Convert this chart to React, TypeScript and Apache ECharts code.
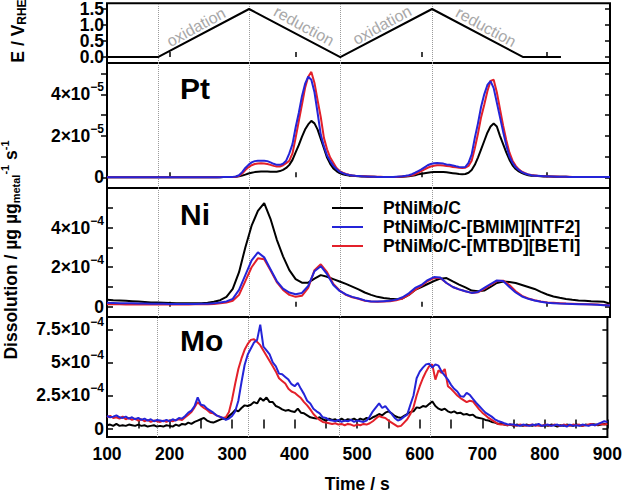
import React, { useEffect, useRef } from 'react';
import * as echarts from 'echarts';

const FONT = '"Liberation Sans", Arial, Helvetica, sans-serif';

// ---------- potential programme (top panel) ----------
const potentialTimes = [100, 181, 326, 471, 617, 762, 822];
const potentialValues = [0, 0, 1.5, 0, 1.5, 0, 0];
const markerTimes = [181, 326, 471, 617];
const potentialTicks = [0, 0.5, 1, 1.5];
const potentialLabelsA = [0, 1];
const potentialLabelsB = [0.5, 1.5];

// ---------- axes ----------
const xTickValues = [100, 150, 200, 250, 300, 350, 400, 450, 500, 550, 600, 650, 700, 750, 800, 850, 900];
const xLabelValues = [100, 200, 300, 400, 500, 600, 700, 800, 900];
const innerXTicks = [200, 400, 600, 800];
const ptTicks = [0, 1, 2, 3, 4, 5];
const ptLabels = [0, 2, 4];
const niTicks = [0, 1, 2, 3, 4, 5];
const niLabels = [0, 2, 4];
const moTicks = [0, 2.5, 5, 7.5];
const moLabels = [0, 2.5, 5, 7.5];

const seriesNames = ['PtNiMo/C', 'PtNiMo/C-[BMIM][NTF2]', 'PtNiMo/C-[MTBD][BETI]'];
const seriesColors = ['#000000', '#2424d8', '#e3202a'];

// ---------- Pt dissolution, units of 1e-5, t = 100..900 s, step 5 s ----------
const PT_START = 100, PT_STEP = 5;
const ptBlack = [
  0, 0, 0, 0, 0, 0, 0, 0, 0, 0,
  0, 0, 0, 0, 0, 0, 0, 0, 0, 0,
  0, 0, 0, 0, 0, 0, 0, 0, 0, 0,
  0, 0, 0, 0, 0, 0, 0, 0.01, 0.01, 0.01,
  0.02, 0.03, 0.05, 0.08, 0.13, 0.18, 0.22, 0.25, 0.27, 0.28,
  0.28, 0.28, 0.27, 0.27, 0.27, 0.3, 0.36, 0.45, 0.6, 0.84,
  1.2, 1.55, 1.95, 2.3, 2.55, 2.72, 2.6, 2.3, 1.85, 1.4,
  0.95, 0.65, 0.43, 0.3, 0.2, 0.15, 0.11, 0.08, 0.07, 0.06,
  0.05, 0.04, 0.04, 0.03, 0.03, 0.03, 0.02, 0.02, 0.02, 0.02,
  0.02, 0.02, 0.02, 0.02, 0.03, 0.04, 0.05, 0.07, 0.1, 0.14,
  0.17, 0.2, 0.22, 0.24, 0.25, 0.26, 0.26, 0.25, 0.24, 0.22,
  0.2, 0.18, 0.16, 0.15, 0.16, 0.22, 0.35, 0.6, 0.95, 1.35,
  1.75, 2.15, 2.45, 2.59, 2.45, 2.0, 1.6, 1.2, 0.85, 0.58,
  0.4, 0.28, 0.2, 0.14, 0.1, 0.08, 0.07, 0.06, 0.05, 0.04,
  0.04, 0.04, 0.03, 0.03, 0.03, 0.03, 0.03, 0.02, 0.02, 0.02,
  0.02, 0.02, 0.02, 0.02, 0.02, 0.02, 0.02, 0.02, 0.02, 0.02,
  0.02,
];
const ptBlue = [
  0, 0, 0, 0, 0, 0, 0, 0, 0, 0,
  0, 0, 0, 0, 0, 0, 0, 0, 0, 0,
  0, 0, 0, 0, 0, 0, 0, 0, 0, 0,
  0, 0, 0, 0, 0, 0, 0, 0.01, 0.01, 0.01,
  0.02, 0.04, 0.1, 0.25, 0.45, 0.6, 0.72, 0.78, 0.8, 0.8,
  0.8, 0.78, 0.72, 0.65, 0.6, 0.6, 0.65, 0.8, 1.15, 1.6,
  2.4, 3.1, 3.9, 4.5, 4.85, 4.7, 4.1, 3.1, 2.05, 1.5,
  1.05, 0.78, 0.55, 0.4, 0.27, 0.2, 0.15, 0.11, 0.09, 0.07,
  0.06, 0.05, 0.04, 0.04, 0.03, 0.03, 0.02, 0.02, 0.02, 0.02,
  0.02, 0.02, 0.03, 0.04, 0.05, 0.07, 0.1, 0.15, 0.22, 0.3,
  0.38, 0.48, 0.58, 0.64, 0.68, 0.69, 0.68, 0.66, 0.62, 0.6,
  0.57, 0.53, 0.5, 0.48, 0.5, 0.7, 1.1, 1.9, 2.6, 3.4,
  4.0, 4.45, 4.64, 4.3, 3.6, 2.9, 2.2, 1.55, 1.0, 0.7,
  0.48, 0.35, 0.25, 0.18, 0.13, 0.1, 0.08, 0.07, 0.06, 0.05,
  0.05, 0.04, 0.04, 0.03, 0.03, 0.03, 0.03, 0.02, 0.02, 0.02,
  0.02, 0.02, 0.02, 0.02, 0.02, 0.02, 0.02, 0.02, 0.02, 0.02,
  0.02,
];
const ptRed = [
  0, 0, 0, 0, 0, 0, 0, 0, 0, 0,
  0, 0, 0, 0, 0, 0, 0, 0, 0, 0,
  0, 0, 0, 0, 0, 0, 0, 0, 0, 0,
  0, 0, 0, 0, 0, 0, 0.01, 0.01, 0.01, 0.01,
  0.02, 0.03, 0.07, 0.18, 0.35, 0.48, 0.58, 0.64, 0.67, 0.68,
  0.67, 0.64, 0.6, 0.55, 0.52, 0.52, 0.58, 0.68, 0.8, 1.15,
  1.9, 2.7, 3.5, 4.3, 4.85, 5.08, 4.55, 3.7, 2.9, 1.9,
  1.35, 0.95, 0.7, 0.45, 0.3, 0.22, 0.16, 0.12, 0.09, 0.07,
  0.06, 0.05, 0.05, 0.04, 0.04, 0.03, 0.03, 0.03, 0.02, 0.02,
  0.02, 0.02, 0.02, 0.03, 0.04, 0.05, 0.07, 0.1, 0.15, 0.22,
  0.3, 0.38, 0.46, 0.52, 0.56, 0.58, 0.58, 0.57, 0.55, 0.53,
  0.5, 0.48, 0.46, 0.45, 0.46, 0.55, 0.8, 1.4, 2.1, 2.9,
  3.5, 4.15, 4.65, 4.7, 4.1, 3.3, 2.5, 1.8, 1.2, 0.8,
  0.55, 0.38, 0.27, 0.2, 0.14, 0.11, 0.09, 0.07, 0.06, 0.05,
  0.05, 0.04, 0.04, 0.04, 0.03, 0.03, 0.03, 0.03, 0.02, 0.02,
  0.02, 0.02, 0.02, 0.02, 0.02, 0.02, 0.02, 0.02, 0.02, 0.02,
  0.02,
];

// ---------- Ni dissolution, units of 1e-4, t = 100..900 s, step 10 s ----------
const NI_START = 100, NI_STEP = 10;
const niBlack = [
  0.35, 0.33, 0.32, 0.3, 0.28, 0.26, 0.24, 0.22, 0.21, 0.2,
  0.19, 0.18, 0.17, 0.17, 0.17, 0.18, 0.2, 0.25, 0.33, 0.5,
  0.9, 1.75, 3.0, 4.1, 4.85, 5.25, 4.45, 3.4, 2.55, 1.85,
  1.4, 1.22, 1.22, 1.42, 1.6, 1.52, 1.4, 1.28, 1.16, 1.02,
  0.88, 0.72, 0.6, 0.5, 0.44, 0.4, 0.38, 0.42, 0.6, 0.85,
  1.0, 1.15, 1.3, 1.42, 1.45, 1.28, 1.12, 0.98, 0.82, 0.78,
  0.82, 1.0, 1.2, 1.28, 1.25, 1.2, 1.1, 1.0, 0.9, 0.75,
  0.62, 0.52, 0.45, 0.39, 0.35, 0.32, 0.3, 0.28, 0.27, 0.25,
  0.15,
];
const niBlue = [
  0.2, 0.19, 0.18, 0.18, 0.17, 0.16, 0.16, 0.15, 0.15, 0.15,
  0.14, 0.14, 0.14, 0.14, 0.14, 0.15, 0.15, 0.17, 0.21, 0.27,
  0.4, 0.85, 1.6, 2.35, 2.75, 2.5, 1.9, 1.3, 0.92, 0.72,
  0.63, 0.7, 1.05, 1.8, 2.05, 1.65, 1.1, 0.8, 0.62, 0.5,
  0.42, 0.32, 0.27, 0.26, 0.28, 0.3, 0.36, 0.48, 0.68, 0.95,
  1.1, 1.35, 1.5, 1.48, 1.2, 1.0, 0.88, 0.78, 0.7, 0.75,
  0.95, 1.15, 1.33, 1.3, 1.0, 0.72, 0.52, 0.4, 0.32, 0.25,
  0.2, 0.18, 0.16, 0.15, 0.14, 0.13, 0.12, 0.11, 0.1, 0.08,
  0.06,
];
const niRed = [
  0.12, 0.12, 0.12, 0.11, 0.11, 0.11, 0.11, 0.11, 0.11, 0.11,
  0.11, 0.11, 0.11, 0.11, 0.12, 0.12, 0.13, 0.14, 0.17, 0.21,
  0.3, 0.6, 1.3, 2.0, 2.45, 2.4, 1.85, 1.25, 0.85, 0.6,
  0.5, 0.55, 0.95, 1.85, 2.15, 1.75, 1.15, 0.82, 0.6, 0.48,
  0.4, 0.3, 0.26, 0.25, 0.26, 0.28, 0.33, 0.42, 0.6, 0.85,
  1.05, 1.3, 1.45, 1.45, 1.2, 1.0, 0.88, 0.78, 0.7, 0.73,
  0.9, 1.1, 1.3, 1.32, 1.1, 0.78, 0.55, 0.42, 0.33, 0.26,
  0.22, 0.2, 0.18, 0.16, 0.15, 0.14, 0.13, 0.12, 0.11, 0.09,
  0.07,
];

// ---------- Mo dissolution, units of 1e-4, t = 100..900 s, step 5 s ----------
const MO_START = 100, MO_STEP = 5;
const moBlack = [
  0.25, 0.3, 0.2, 0.35, 0.2, 0.25, 0.2, 0.3, 0.25, 0.2,
  0.3, 0.2, 0.25, 0.15, 0.2, 0.25, 0.15, 0.2, 0.15, 0.25,
  0.2, 0.15, 0.3, 0.2, 0.35, 0.3, 0.45, 0.35, 0.5, 0.6,
  0.7, 0.8, 0.6, 0.5, 0.45, 0.55, 0.65, 0.75, 0.7, 0.95,
  1.15, 1.4, 1.3, 1.55, 1.75, 1.7, 1.8, 2.0, 1.9, 2.3,
  2.1, 2.35, 2.0, 2.0, 1.7, 1.6, 1.45, 1.35, 1.4, 1.3,
  1.25, 1.5, 1.2, 1.15, 1.0, 0.85, 0.8, 0.75, 0.85, 0.7,
  0.6, 0.75, 0.65, 0.7, 0.55, 0.75, 0.6, 0.7, 0.65, 0.75,
  0.6, 0.75, 0.65, 0.8, 0.7, 0.85, 0.95, 1.1, 1.0, 1.2,
  1.3, 1.15, 0.95, 0.85, 0.8, 0.95, 1.1, 1.25, 1.3, 1.6,
  1.55, 1.7, 1.65, 1.85, 2.05, 1.7, 1.5, 1.4, 1.5, 1.3,
  1.2, 1.3, 1.15, 1.2, 1.05, 1.1, 1.0, 1.05, 0.85, 0.8,
  0.75, 0.65, 0.6, 0.5, 0.45, 0.35, 0.4, 0.3, 0.25, 0.3,
  0.2, 0.3, 0.25, 0.2, 0.3, 0.25, 0.2, 0.3, 0.25, 0.2,
  0.25, 0.2, 0.3, 0.25, 0.15, 0.25, 0.2, 0.3, 0.25, 0.2,
  0.3, 0.25, 0.2, 0.3, 0.25, 0.35, 0.3, 0.25, 0.3, 0.35,
  0.3,
];
const moBlue = [
  0.95, 0.85, 0.9, 1.0, 0.85, 0.8, 0.9, 0.75, 0.85, 0.7,
  0.8, 0.65, 0.75, 0.6, 0.7, 0.55, 0.65, 0.6, 0.55, 0.65,
  0.55, 0.7, 0.6, 0.8, 0.75, 0.95, 1.2, 1.35, 1.7, 2.35,
  1.8, 1.75, 1.5, 1.35, 1.2, 1.0, 0.9, 0.8, 0.65, 0.75,
  0.95, 1.3, 2.1, 3.5, 4.8, 5.6, 6.05, 6.5, 6.7, 7.85,
  6.2, 5.9, 5.6, 5.0, 4.7, 4.15, 4.1, 3.9, 3.7, 3.35,
  3.2, 3.45, 3.0, 2.6, 2.1, 1.9, 1.5, 1.3, 1.15, 0.85,
  0.8, 0.65, 0.6, 0.55, 0.65, 0.5, 0.6, 0.55, 0.65, 0.5,
  0.6, 0.55, 0.5, 0.6, 0.9, 1.3, 1.6, 1.9, 1.55, 1.7,
  1.4, 1.1, 0.8, 0.6, 0.7, 0.9, 1.05, 1.8, 2.5, 3.8,
  4.3, 4.6, 4.85, 4.9, 4.6, 4.85, 4.75, 4.3, 4.0, 3.7,
  3.3, 3.0, 2.8, 2.45, 2.4, 2.7, 2.55, 2.25, 1.95, 1.7,
  1.45, 1.2, 1.05, 0.9, 0.7, 0.57, 0.5, 0.4, 0.33, 0.3,
  0.3, 0.25, 0.2, 0.3, 0.25, 0.2, 0.3, 0.25, 0.35, 0.2,
  0.25, 0.3, 0.2, 0.25, 0.3, 0.2, 0.25, 0.15, 0.3, 0.2,
  0.25, 0.2, 0.3, 0.25, 0.2, 0.3, 0.25, 0.35, 0.45, 0.55,
  0.5,
];
const moRed = [
  0.85, 0.95, 0.8, 0.85, 0.75, 0.9, 0.7, 0.8, 0.65, 0.75,
  0.6, 0.7, 0.55, 0.65, 0.5, 0.6, 0.55, 0.5, 0.6, 0.5,
  0.6, 0.55, 0.65, 0.7, 0.65, 0.85, 1.05, 1.25, 1.6, 2.0,
  1.75, 1.55, 1.4, 1.2, 1.15, 1.0, 0.9, 0.8, 0.85, 1.25,
  2.2, 3.4, 4.5, 5.3, 5.95, 6.4, 6.7, 6.75, 6.55, 6.3,
  5.9, 5.5, 5.1, 4.7, 4.3, 3.8, 3.6, 3.4, 3.0, 2.8,
  2.7, 2.5, 2.3, 2.0, 1.75, 1.45, 1.1, 0.85, 0.65, 0.5,
  0.45, 0.4, 0.35, 0.4, 0.3, 0.35, 0.25, 0.35, 0.3, 0.2,
  0.3, 0.25, 0.35, 0.3, 0.4, 0.55, 0.75, 0.95, 0.85, 0.8,
  0.6, 0.45, 0.3, 0.15, 0.2, 0.45, 0.7, 1.1, 1.6, 2.5,
  3.2, 3.8, 4.3, 4.7, 4.85, 3.7, 4.4, 4.2, 4.5, 3.2,
  3.0, 2.75, 2.5, 2.3, 2.15, 2.0, 2.1, 2.05, 1.75, 1.45,
  1.2, 1.0, 0.8, 0.65, 0.5, 0.35, 0.3, 0.3, 0.25, 0.3,
  0.25, 0.2, 0.3, 0.25, 0.2, 0.25, 0.3, 0.2, 0.25, 0.2,
  0.3, 0.25, 0.2, 0.3, 0.25, 0.2, 0.3, 0.25, 0.2, 0.3,
  0.25, 0.3, 0.2, 0.25, 0.3, 0.35, 0.25, 0.3, 0.35, 0.3,
  0.35,
];

const toPairs = (vals: number[], start: number, step: number) => vals.map((v, i) => [start + i * step, v]);

const labelRich = {
  m: { fontSize: 17.5, fontWeight: 'bold', fontFamily: FONT, color: '#000', lineHeight: 16 },
  s: { fontSize: 12, fontWeight: 'bold', fontFamily: FONT, color: '#000', padding: [0, 0, 14, 0] },
};
const sci = (exp: string) => (v: number) => (v === 0 ? '{m|0}' : `{m|${v}×10}{s|−${exp}}`);
const fixed1 = (v: number) => `{m|${v.toFixed(1)}}`;

const GRIDS = [
  { top: 2, height: 61 },
  { top: 63, height: 125 },
  { top: 188, height: 129 },
  { top: 317, height: 127 },
];

function leftAxis(g: number, min: number, max: number, ticks: number[] | null, labels: number[], fmt: any, outward: boolean) {
  return {
    type: 'value', gridIndex: g, position: 'left', min, max,
    splitLine: { show: false }, axisLine: { show: false },
    axisTick: ticks
      ? { show: true, inside: !outward, length: 6, customValues: ticks, lineStyle: { color: '#000', width: 1.5 } }
      : { show: false },
    axisLabel: {
      show: true, customValues: labels, formatter: fmt, rich: labelRich, margin: 3, color: '#000',
      hideOverlap: false, showMinLabel: true, showMaxLabel: true,
    },
  };
}
function rightAxis(g: number, min: number, max: number, ticks: number[]) {
  return {
    type: 'value', gridIndex: g, position: 'right', min, max,
    splitLine: { show: false }, axisLine: { show: false },
    axisTick: { show: true, inside: true, length: 5, customValues: ticks, lineStyle: { color: '#000', width: 1.5 } },
    axisLabel: { show: false },
  };
}

export default function App() {
  const ref = useRef<HTMLDivElement>(null);
  useEffect(() => {
    if (!ref.current) return;
    const chart = echarts.init(ref.current, null, { renderer: 'svg' });

    const grid = GRIDS.map((g) => ({
      left: 107, right: 15, top: g.top, height: g.height,
      show: true, borderColor: '#000', borderWidth: 2, backgroundColor: 'transparent',
    }));

    const xAxis = GRIDS.map((_, i) => {
      const bottom = i === 3;
      return {
        type: 'value', gridIndex: i, min: 100, max: 900,
        splitLine: { show: false }, axisLine: { show: false },
        axisTick: {
          show: true, inside: true, length: bottom ? 9 : 5,
          customValues: bottom ? xTickValues : innerXTicks,
          lineStyle: { color: '#000', width: 1.5 },
        },
        axisLabel: bottom
          ? { show: true, customValues: xLabelValues, fontSize: 17.5, fontWeight: 'bold', fontFamily: FONT, color: '#000', margin: 8 }
          : { show: false },
        name: bottom ? 'Time / s' : '',
        nameLocation: 'middle',
        nameGap: 38,
        nameTextStyle: { fontSize: 17.5, fontWeight: 'bold', fontFamily: FONT, color: '#000' },
      };
    });

    // y axes: E panel uses two overlaid left axes so that its tightly packed labels all show
    const E_MIN = -0.184, E_MAX = 1.683;
    const yAxis = [
      leftAxis(0, E_MIN, E_MAX, potentialTicks, potentialLabelsA, fixed1, true), // 0
      leftAxis(0, E_MIN, E_MAX, null, potentialLabelsB, fixed1, true),            // 1
      rightAxis(0, E_MIN, E_MAX, potentialTicks),                                  // 2
      leftAxis(1, -0.516, 5.51, ptTicks, ptLabels, sci('5'), true),                // 3
      rightAxis(1, -0.516, 5.51, ptTicks),                                         // 4
      leftAxis(2, -0.52, 6.01, niTicks, niLabels, sci('4'), false),                // 5
      rightAxis(2, -0.52, 6.01, niTicks),                                          // 6
      leftAxis(3, -0.64, 8.43, moTicks, moLabels, sci('4'), false),                // 7
      rightAxis(3, -0.64, 8.43, moTicks),                                          // 8
    ];

    const markLine = {
      silent: true, symbol: ['none', 'none'], label: { show: false },
      lineStyle: { type: 'dotted', color: '#9a9a9a', width: 1 },
      data: markerTimes.map((t) => ({ xAxis: t })),
      z: 1,
    };

    const order = [0, 2, 1]; // draw black, red, then blue on top
    const panels = [
      { g: 1, y: 3, data: [ptBlack, ptBlue, ptRed], start: PT_START, step: PT_STEP },
      { g: 2, y: 5, data: [niBlack, niBlue, niRed], start: NI_START, step: NI_STEP },
      { g: 3, y: 7, data: [moBlack, moBlue, moRed], start: MO_START, step: MO_STEP },
    ];

    const series: any[] = [
      {
        type: 'line', name: 'E', xAxisIndex: 0, yAxisIndex: 0,
        data: potentialTimes.map((t, i) => [t, potentialValues[i]]),
        symbol: 'none', lineStyle: { color: '#000', width: 2 }, itemStyle: { color: '#000' },
        markLine, z: 3,
      },
    ];
    panels.forEach((p) => {
      order.forEach((k, idx) => {
        series.push({
          type: 'line', name: seriesNames[k], xAxisIndex: p.g, yAxisIndex: p.y,
          data: toPairs(p.data[k], p.start, p.step),
          symbol: 'none', lineStyle: { color: seriesColors[k], width: 2 }, itemStyle: { color: seriesColors[k] },
          z: 3 + idx,
          ...(idx === 0 ? { markLine } : {}),
        });
      });
    });

    const annot = (text: string, x: number, y: number, rot: number) => ({
      type: 'text', x, y, rotation: rot, silent: true,
      style: { text, fill: '#a8a8a8', fontSize: 16, fontFamily: FONT, align: 'center', verticalAlign: 'middle' },
    });
    const panelLabel = (text: string, x: number, y: number) => ({
      type: 'text', x, y, silent: true,
      style: { text, fill: '#000', fontSize: 30, fontWeight: 'bold', fontFamily: FONT, align: 'left', verticalAlign: 'middle' },
    });

    const graphic = [
      annot('oxidation', 196, 27, 0.5),
      annot('reduction', 304, 26, -0.5),
      annot('oxidation', 382, 25, 0.5),
      annot('reduction', 486, 27, -0.5),
      panelLabel('Pt', 180, 88),
      panelLabel('Ni', 180, 214),
      panelLabel('Mo', 180, 340),
      {
        type: 'text', x: 18, y: 31, rotation: Math.PI / 2, silent: true,
        style: {
          text: '{m|E / V}{s|RHE}', align: 'center', verticalAlign: 'middle',
          rich: {
            m: { fontSize: 17.5, fontWeight: 'bold', fontFamily: FONT, fill: '#000' },
            s: { fontSize: 12, fontWeight: 'bold', fontFamily: FONT, fill: '#000', padding: [8, 0, 0, 0] },
          },
        },
      },
      {
        type: 'text', x: 11, y: 250, rotation: Math.PI / 2, silent: true,
        style: {
          text: '{m|Dissolution / µg µg}{s|metal}{p|-1}{m| s}{p|-1}', align: 'center', verticalAlign: 'middle',
          rich: {
            m: { fontSize: 17.5, fontWeight: 'bold', fontFamily: FONT, fill: '#000' },
            s: { fontSize: 11, fontWeight: 'bold', fontFamily: FONT, fill: '#000', padding: [9, 0, 0, 0] },
            p: { fontSize: 11, fontWeight: 'bold', fontFamily: FONT, fill: '#000', padding: [0, 0, 12, 0] },
          },
        },
      },
    ];

    chart.setOption({
      animation: false,
      grid,
      xAxis,
      yAxis,
      series,
      graphic,
      legend: {
        data: seriesNames,
        orient: 'vertical',
        left: 327,
        top: 194,
        itemWidth: 31,
        itemHeight: 14,
        itemGap: 1,
        selectedMode: false,
        icon: 'path://M0,6 L31,6 L31,8 L0,8 Z',
        formatter: (name: string) => `{g| }{t|${name}}`,
        textStyle: {
          rich: {
            g: { width: 15, fontSize: 10 },
            t: { fontSize: 17.5, fontWeight: 'bold', fontFamily: FONT, color: '#000', lineHeight: 20 },
          },
        },
      },
    });
    return () => chart.dispose();
  }, []);
  return <div ref={ref} style={{ position: 'absolute', left: 0, top: 0, width: 625, height: 494 }} />;
}
